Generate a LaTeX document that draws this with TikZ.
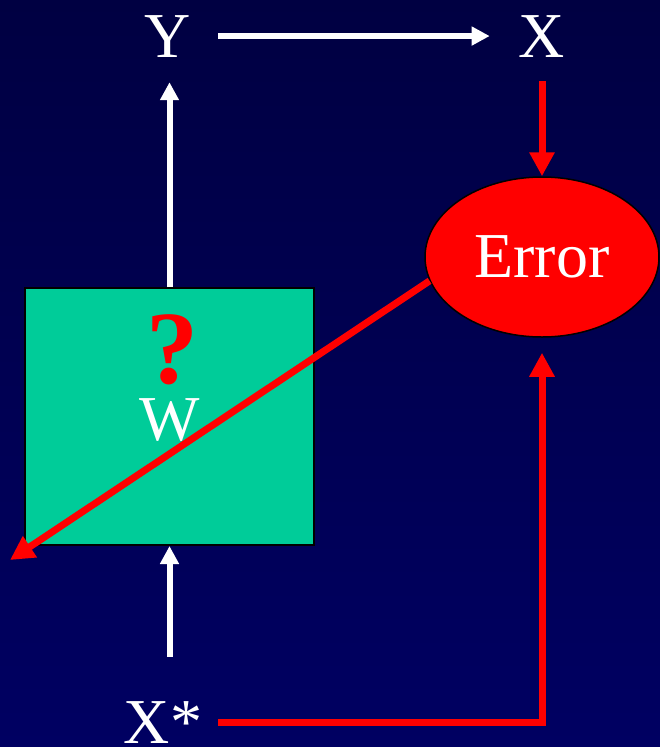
\documentclass[tikz,border=0pt]{standalone}
\usepackage{fontspec}
\setmainfont{Liberation Serif}
\usetikzlibrary{shapes.geometric,arrows.meta}
\definecolor{navytop}{RGB}{0,0,66}
\definecolor{navybot}{RGB}{0,0,98}
\definecolor{wgreen}{RGB}{0,204,153}

\begin{document}
\begin{tikzpicture}[x=1pt,y=-1pt,
  lbl/.style={text=white,font=\fontsize{64}{64}\selectfont,anchor=base,inner sep=3pt},
  warrow/.style={white,line width=6pt,-{Triangle[length=18pt,width=18pt]}},
  rarrow/.style={red,line width=7pt,-{Triangle[length=24pt,width=24pt]}}]

\useasboundingbox (0,0) rectangle (660,747);
\fill[top color=navytop,bottom color=navybot] (0,0) rectangle (660,747);

\node[lbl] (Y) at (168,57) {Y};
\node[lbl] (X) at (542,57) {X};
\node[lbl] (Xs) at (163,743) {X*};

\node[draw=black,line width=2pt,fill=wgreen,minimum width=289pt,minimum height=257pt,inner sep=0] (W) at (169.5,416.5) {};
\node[text=red,font=\fontsize{104}{104}\selectfont\bfseries,anchor=base] (q) at (172,383) {?};
\node[lbl] (w) at (170,440) {W};

\node[ellipse,draw=black,line width=1.5pt,fill=red,minimum width=234pt,minimum height=160pt,inner sep=0,
  text=white,font=\fontsize{64}{64}\selectfont] (err) at (542,257) {Error};
\coordinate (tip) at (10,560);

%\draw[help lines] (0,0) grid[step=50] (660,747);

\draw[warrow,shorten <=24pt,shorten >=26pt] (Y.east) -- (X.west);
\draw[warrow,shorten >=22pt] (W.north) -- (W.north |- Y.south);
\draw[warrow,shorten <=41pt] (W.south |- Xs.north) -- (W.south);

\draw[rarrow,shorten <=21pt] (X.south -| err.north) -- (err.north);
\draw[rarrow,shorten <=13pt,shorten >=15pt] (Xs.east) -| (err.south);
\draw[rarrow] (err.192) -- (tip);
\end{tikzpicture}
\end{document}
